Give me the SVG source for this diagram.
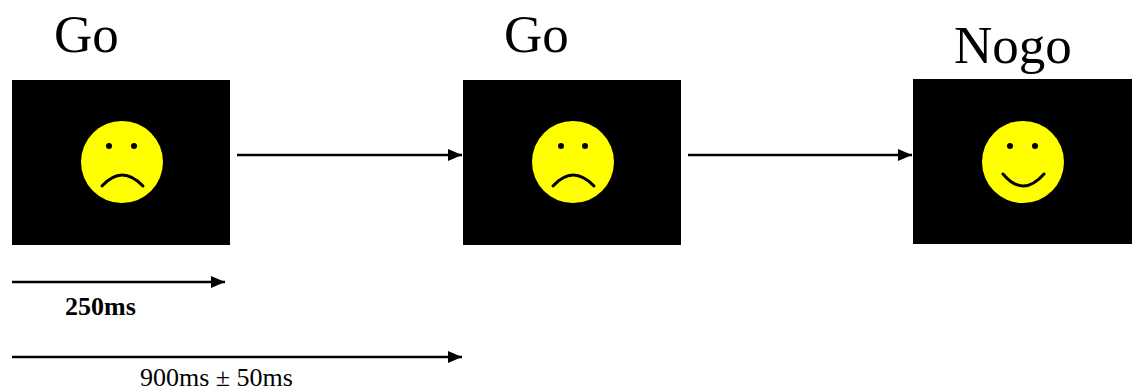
<svg xmlns="http://www.w3.org/2000/svg" width="1137" height="392" viewBox="0 0 1137 392">
<style>
.screen{fill:#000}
.face{fill:#ffff00}
.eye{fill:#000}
.mouth{fill:none;stroke:#000;stroke-width:3;stroke-linecap:round}
.lbl{font-family:"Liberation Serif","Times New Roman",serif;font-size:53px;fill:#000}
.t{font-family:"Liberation Serif","Times New Roman",serif;fill:#000}
.conn{stroke:#000;stroke-width:2.6;fill:none;marker-end:url(#ah)}
</style>
<defs>
<marker id="ah" viewBox="0 0 14 12" refX="14" refY="6" markerWidth="14" markerHeight="12" markerUnits="userSpaceOnUse" orient="auto">
<path d="M0,0 L14,6 L0,12 Z" fill="#000"/>
</marker>
</defs>
<rect width="1137" height="392" fill="#fff"/>
<g id="node-go1">
<text class="lbl" x="54" y="52">Go</text>
<rect class="screen" x="12" y="80" width="218" height="165"/>
<circle class="face" cx="122" cy="162" r="41"/>
<circle class="eye" cx="109" cy="146" r="3"/>
<circle class="eye" cx="134" cy="146" r="3"/>
<path class="mouth" d="M102,186 Q122,164 143,186"/>
</g>
<g id="node-go2">
<text class="lbl" x="504" y="52">Go</text>
<rect class="screen" x="463" y="80" width="218" height="165"/>
<circle class="face" cx="573" cy="162" r="41"/>
<circle class="eye" cx="561" cy="146" r="3"/>
<circle class="eye" cx="585" cy="146" r="3"/>
<path class="mouth" d="M553,186 Q573,164 594,186"/>
</g>
<g id="node-nogo">
<text class="lbl" x="954" y="63">Nogo</text>
<rect class="screen" x="913" y="79" width="219" height="165"/>
<circle class="face" cx="1023" cy="162" r="41"/>
<circle class="eye" cx="1010" cy="146" r="3"/>
<circle class="eye" cx="1035" cy="146" r="3"/>
<path class="mouth" d="M1003,174 Q1023,198 1044,174"/>
</g>
<g id="connectors">
<line class="conn" x1="237" y1="155" x2="462" y2="155"/>
<line class="conn" x1="688" y1="155" x2="912" y2="155"/>
<line class="conn" x1="12" y1="282" x2="225" y2="282"/>
<line class="conn" x1="12" y1="357" x2="462" y2="357"/>
</g>
<g id="timing-labels">
<text class="t" x="65" y="315" font-size="26" font-weight="bold">250ms</text>
<text class="t" x="140" y="386" font-size="26">900ms ± 50ms</text>
</g>
</svg>
